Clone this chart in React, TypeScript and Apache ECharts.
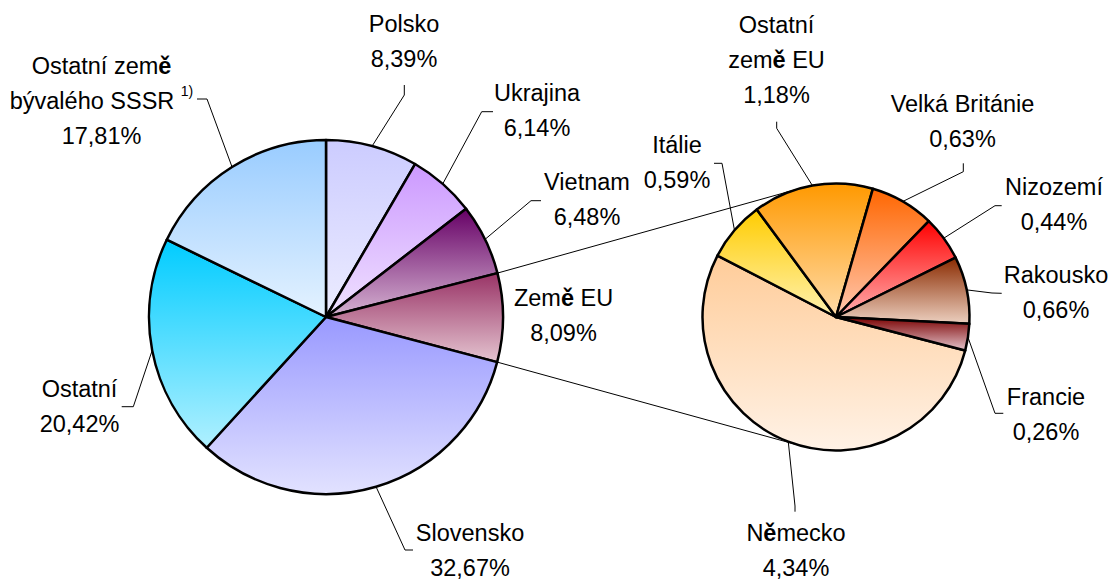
import React, { useEffect, useRef } from 'react';
import * as echarts from 'echarts';

// ---------- data ----------
const mainNames = ['Polsko', 'Ukrajina', 'Vietnam', 'Země EU', 'Slovensko', 'Ostatní', 'Ostatní země\nbývalého SSSR'];
const mainValues = [8.39, 6.14, 6.48, 8.09, 32.67, 20.42, 17.81];
const mainNotes = ['', '', '', '', '', '', '1)'];
const splitIndex = 3; // "Země EU" is broken down in the second pie

const euNames = ['Německo', 'Itálie', 'Ostatní\nzemě EU', 'Velká Británie', 'Nizozemí', 'Rakousko', 'Francie'];
const euValues = [4.34, 0.59, 1.18, 0.63, 0.44, 0.66, 0.26];

// ---------- styles ----------
const mainTop = ['#ccccff', '#cc99ff', '#660066', '#993366', '#9999ff', '#00ccff', '#99ccff'];
const mainBottom = ['#ececff', '#f0e2ff', '#d6b4d2', '#e4c4d0', '#e2e2ff', '#b0f0ff', '#e4f2ff'];
const euTop = ['#ffcc99', '#ffcc00', '#ff9900', '#ff6600', '#ff0000', '#8a2a00', '#7a0000'];
const euBottom = ['#fff2e6', '#fff2b0', '#ffdcaa', '#ffc8b0', '#ffb0b0', '#ecd0c0', '#e4c4cc'];

// ---------- layout ----------
const W = 1110;
const H = 581;
const C1 = [326, 317];
const R1 = 177;
const START1 = 90;
const C2 = [836, 317];
const R2 = 133.5;
const START2 = 345.5;

const mainLabelPos = [[404, 41.8], [537, 110.3], [587, 199.5], [563.5, 315.3], [470, 550.3], [79.5, 406.3], [101.5, 101.3]];
const mainLinePts: (number[][] | null)[] = [
  [[404.3, 95], [404.3, 85]],
  [[481.7, 111.7], [493, 111.7]],
  [[531, 200.7], [541, 200.7]],
  null,
  [[405, 550], [413, 550]],
  [[133.3, 406.7], [121.7, 406.7]],
  [[207, 99], [197, 99]],
];
const euLabelPos = [[796, 550.3], [677, 162.8], [776.5, 60.3], [962.5, 121.1], [1054, 204.5], [1056, 292.8], [1046, 414.5]];
const euLinePts: (number[][] | null)[] = [
  [[795, 506], [795, 511.7]],
  [[722, 163.3], [714, 163.3]],
  [[776.7, 128.3], [776.7, 121.7]],
  [[963.3, 171.7], [963.3, 163.3]],
  [[995, 205.7], [1001.7, 205.7]],
  [[992, 293], [1001.7, 293.3]],
  [[995, 413.3], [1003.3, 413.3]],
];

const FONT = "'Liberation Sans Narrow', 'Arial Narrow', 'Liberation Sans', Arial, sans-serif";
const FS = 23.5;
const LH = 35;

const fmt = (v: number) => v.toFixed(2).replace('.', ',') + '%';
const sum = (a: number[]) => a.reduce((s, v) => s + v, 0);

function midEdge(values: number[], i: number, start: number, c: number[], r: number) {
  const total = sum(values);
  const before = sum(values.slice(0, i));
  const a = ((start - (360 * (before + values[i] / 2)) / total) * Math.PI) / 180;
  return [c[0] + r * Math.cos(a), c[1] - r * Math.sin(a)];
}

function tangent(p: number[], c: number[], r: number, upper: boolean) {
  const vx = c[0] - p[0];
  const vy = c[1] - p[1];
  const d = Math.sqrt(vx * vx + vy * vy);
  const th = Math.atan2(vy, vx);
  const al = Math.asin(r / d);
  const L = Math.sqrt(d * d - r * r);
  const ang = upper ? th - al : th + al;
  return [p[0] + L * Math.cos(ang), p[1] + L * Math.sin(ang)];
}

function makeSeries(
  names: string[], values: number[], notes: string[] | null, top: string[], bottom: string[],
  center: number[], radius: number, start: number, labelPos: number[][], linePts: (number[][] | null)[]
) {
  return {
    type: 'pie',
    center,
    radius,
    startAngle: start,
    clockwise: true,
    avoidLabelOverlap: false,
    silent: true,
    emphasis: { disabled: true },
    itemStyle: { borderColor: '#000', borderWidth: 2.5 },
    label: {
      show: true,
      position: 'outside',
      color: '#000',
      fontFamily: FONT,
      fontSize: FS,
      lineHeight: LH,
      align: 'center',
      formatter: (p: any) => {
        const name = String(p.name).replace(/ě/g, '{b|ě}');
        const note = notes && notes[p.dataIndex] ? ' {sup|' + notes[p.dataIndex] + '}' : '';
        return name + note + '\n' + fmt(p.value);
      },
      rich: {
        b: { fontFamily: FONT, fontSize: FS, lineHeight: LH, fontWeight: 'bold', color: '#000', align: 'center' },
        sup: { fontFamily: FONT, fontSize: 14, lineHeight: 20, verticalAlign: 'top', color: '#000', align: 'center' },
      },
    },
    labelLine: { show: true, length: 10, length2: 10, lineStyle: { color: '#000', width: 1 } },
    labelLayout: (params: any) => {
      const i = params.dataIndex;
      const out: any = { x: labelPos[i][0], y: labelPos[i][1], align: 'center', verticalAlign: 'middle' };
      const pts = linePts[i];
      if (pts) {
        out.labelLinePoints = [midEdge(values, i, start, center, radius), ...pts];
      }
      return out;
    },
    data: names.map((n, i) => ({
      name: n,
      value: values[i],
      itemStyle: {
        color: new echarts.graphic.LinearGradient(0, 0, 0, 1, [
          { offset: 0, color: top[i] },
          { offset: 1, color: bottom[i] },
        ]),
      },
      labelLine: { show: !!linePts[i] },
    })),
  };
}

export default function App() {
  const ref = useRef<HTMLDivElement>(null);
  useEffect(() => {
    document.body.style.margin = '0';
    if (!ref.current) return;
    const chart = echarts.init(ref.current, undefined, { renderer: 'svg' });

    const total = sum(mainValues);
    const before = sum(mainValues.slice(0, splitIndex));
    const a1 = ((START1 - (360 * before) / total) * Math.PI) / 180;
    const a2 = ((START1 - (360 * (before + mainValues[splitIndex])) / total) * Math.PI) / 180;
    const p1 = [C1[0] + R1 * Math.cos(a1), C1[1] - R1 * Math.sin(a1)];
    const p2 = [C1[0] + R1 * Math.cos(a2), C1[1] - R1 * Math.sin(a2)];
    const t1 = tangent(p1, C2, R2, true);
    const t2 = tangent(p2, C2, R2, false);

    chart.setOption({
      animation: false,
      backgroundColor: '#fff',
      graphic: [
        { type: 'line', z: 0, silent: true, shape: { x1: p1[0], y1: p1[1], x2: t1[0], y2: t1[1] }, style: { stroke: '#000', lineWidth: 1 } },
        { type: 'line', z: 0, silent: true, shape: { x1: p2[0], y1: p2[1], x2: t2[0], y2: t2[1] }, style: { stroke: '#000', lineWidth: 1 } },
      ],
      series: [
        makeSeries(mainNames, mainValues, mainNotes, mainTop, mainBottom, C1, R1, START1, mainLabelPos, mainLinePts),
        makeSeries(euNames, euValues, null, euTop, euBottom, C2, R2, START2, euLabelPos, euLinePts),
      ],
    });
    return () => chart.dispose();
  }, []);
  return <div ref={ref} style={{ width: W, height: H }} />;
}
